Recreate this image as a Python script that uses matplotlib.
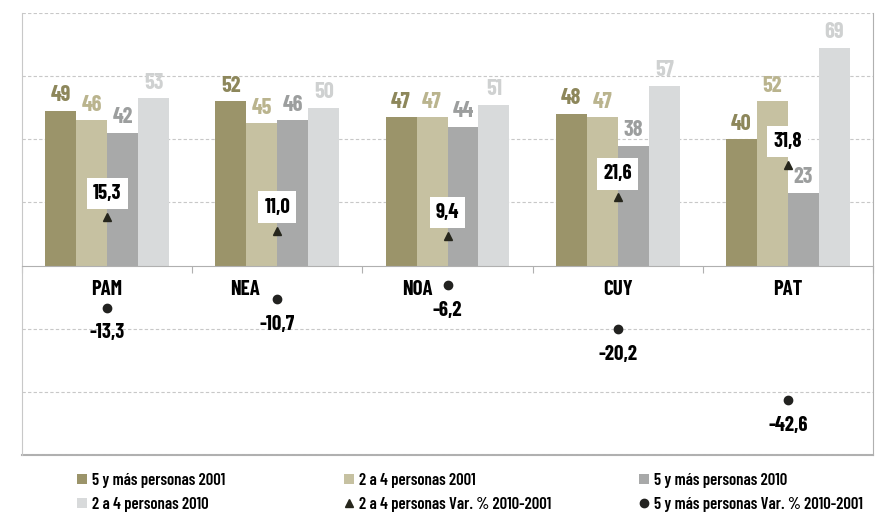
import matplotlib
matplotlib.use("Agg")
import matplotlib.pyplot as plt
from matplotlib.lines import Line2D
import numpy as np

plt.rcParams['font.family'] = ['Barlow Condensed', 'Roboto Condensed', 'DejaVu Sans']
plt.rcParams['font.weight'] = 'semibold'

categories = ["PAM", "NEA", "NOA", "CUY", "PAT"]
mas5_2001 = [49, 52, 47, 48, 40]
de2a4_2001 = [46, 45, 47, 47, 52]
mas5_2010 = [42, 46, 44, 38, 23]
de2a4_2010 = [53, 50, 51, 57, 69]
var_2a4 = [15.3, 11.0, 9.4, 21.6, 31.8]
var_mas5 = [-13.3, -10.7, -6.2, -20.2, -42.6]

# horizontal nudges (in points) of category labels, to clear the markers
cat_label_shift = [0, -23, -22, 0, 0]

series = [
    ("5 y más personas 2001", mas5_2001, "#9b946a", "#8d875b"),
    ("2 a 4 personas 2001", de2a4_2001, "#c6c1a1", "#bab48e"),
    ("5 y más personas 2010", mas5_2010, "#a8a9a9", "#9c9e9e"),
    ("2 a 4 personas 2010", de2a4_2010, "#d8dadb", "#cfd1d1"),
]

fig = plt.figure(figsize=(8.76, 5.14), dpi=100)
ax = fig.add_axes([22/876, 1-455/514, (873-22)/876, (455-13)/514])

x = np.arange(len(categories))
w = 0.182
handles = {}
for k, (name, vals, col, tcol) in enumerate(series):
    xs = x + (k - 1.5) * w
    b = ax.bar(xs, vals, w, color=col, edgecolor='none', zorder=2, label=name)
    handles[name] = b
    for xi, v in zip(xs, vals):
        ax.annotate(f"{v}", (xi, v), xytext=(0, 4), textcoords='offset points',
                    ha='center', va='bottom', fontsize=16, color=tcol,
                    fontweight='bold', zorder=3)

def fmt(v):
    return f"{v:.1f}".replace('.', ',')

ax.plot(x, var_2a4, linestyle='none', marker='^', markersize=6,
        color='#26261c', zorder=5)
ax.plot(x, var_mas5, linestyle='none', marker='o', markersize=6,
        color='#222220', zorder=5)
for xi, v in zip(x, var_2a4):
    ax.annotate(fmt(v), (xi, v), xytext=(0, 17), textcoords='offset points',
                ha='center', va='center', fontsize=15, color='black',
                fontweight='bold', zorder=6,
                bbox=dict(boxstyle='square,pad=0.3', fc='white', ec='none'))
for xi, v in zip(x, var_mas5):
    ax.annotate(fmt(v), (xi, v), xytext=(0, -18), textcoords='offset points',
                ha='center', va='center', fontsize=15, color='black',
                fontweight='bold', zorder=6)

for xi, c, dx in zip(x, categories, cat_label_shift):
    ax.annotate(c, (xi, -7.6), xytext=(dx, 0), textcoords='offset points',
                ha='center', va='center', fontsize=15,
                color='black', fontweight='bold', zorder=6)

ax.set_xlim(-0.5, len(categories) - 0.5)
ax.set_ylim(-60, 80)
ax.set_yticks([-60, -40, -20, 20, 40, 60, 80])
ax.yaxis.grid(True, linestyle=(0, (3, 2)), color='#c8c8c8', linewidth=0.8, zorder=0)
ax.tick_params(axis='y', length=0, labelleft=False)
ax.set_xticks(np.arange(-0.5, len(categories), 1.0))
ax.tick_params(axis='x', direction='out', length=5, color='#b0b0b0', labelbottom=False)
ax.spines['top'].set_visible(False)
ax.spines['bottom'].set_position(('data', 0))
ax.spines['bottom'].set_color('#b0b0b0')
ax.spines['left'].set_color('#c8c8c8')
ax.spines['right'].set_color('#b0b0b0')
ax.axhline(-60, color='#b0b0b0', linewidth=1.5, clip_on=False, zorder=1)

tri = Line2D([], [], linestyle='none', marker='^', markersize=6, color='#26261c')
circ = Line2D([], [], linestyle='none', marker='o', markersize=6, color='#222220')

cols = [
    (78, [handles["5 y más personas 2001"], handles["2 a 4 personas 2010"]],
     ["5 y más personas 2001", "2 a 4 personas 2010"]),
    (345, [handles["2 a 4 personas 2001"], tri],
     ["2 a 4 personas 2001", "2 a 4 personas Var. % 2010-2001"]),
    (640, [handles["5 y más personas 2010"], circ],
     ["5 y más personas 2010", "5 y más personas Var. % 2010-2001"]),
]
for xpx, hs, ls in cols:
    fig.legend(hs, ls, loc='upper left', bbox_to_anchor=(xpx/876 - 0.015, 1 - 461/514),
               frameon=False, handlelength=0.6, handleheight=0.6,
               handletextpad=0.3, labelspacing=0.54, borderpad=0.2,
               prop={'weight': 'semibold', 'size': 12})

fig.savefig("out.png", dpi=100, facecolor='white')
